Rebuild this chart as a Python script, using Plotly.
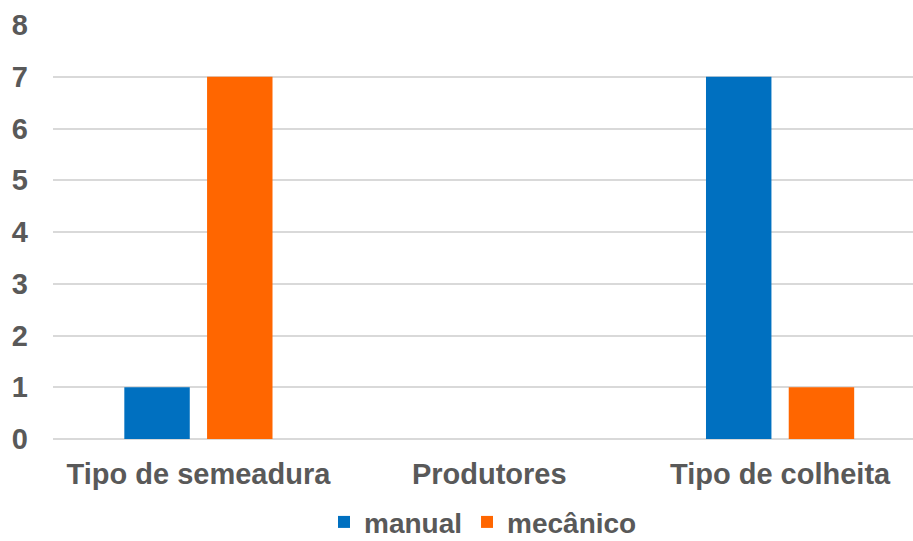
import plotly.graph_objects as go

categories = ["Tipo de semeadura", "Produtores", "Tipo de colheita"]
manual = [1, 0, 7]
mecanico = [7, 0, 1]
y_ticks = [0, 1, 2, 3, 4, 5, 6, 7, 8]

FONT = "Liberation Sans, Arial, sans-serif"
GRAY = "#595959"

fig = go.Figure()
fig.add_trace(go.Bar(x=categories, y=manual, name="manual",
                     marker=dict(color="#0070C0", line=dict(width=0))))
fig.add_trace(go.Bar(x=categories, y=mecanico, name="mecânico",
                     marker=dict(color="#FF6600", line=dict(width=0))))

fig.update_layout(
    width=913, height=541,
    margin=dict(l=53, r=0, t=25, b=102, autoexpand=False),
    paper_bgcolor="white", plot_bgcolor="white",
    barmode="group", bargap=0.431, bargroupgap=0.209,
    font=dict(family=FONT, size=29, color=GRAY),
    showlegend=True,
    legend=dict(orientation="h", x=0.5, xanchor="center",
                yref="paper", y=-0.201, yanchor="middle",
                font=dict(family=FONT, size=28, color=GRAY, weight="bold"),
                itemwidth=30, traceorder="normal"),
    xaxis=dict(range=[-0.5, 2.457], showgrid=False, showline=False, ticks="",
               tickfont=dict(family=FONT, size=29, color=GRAY, weight="bold"),
               ticklabelstandoff=15, automargin=False),
    yaxis=dict(range=[0, 8], tickvals=y_ticks, showgrid=True, gridcolor="#D9D9D9",
               gridwidth=2, zeroline=True, zerolinecolor="#D9D9D9", zerolinewidth=2,
               showline=False, ticks="", automargin=False,
               tickfont=dict(family=FONT, size=29, color=GRAY, weight="bold"),
               ticklabelstandoff=24),
)

fig.write_html("out.html")
